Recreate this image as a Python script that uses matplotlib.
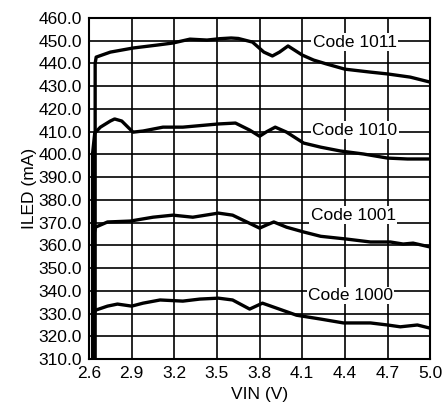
import matplotlib.pyplot as plt

plt.rcParams['font.family'] = ['Liberation Sans', 'DejaVu Sans']

# ILED vs VIN for four current codes
vin_1011 = [2.643, 2.643, 2.65, 2.75, 2.91, 3.08, 3.19, 3.31, 3.43, 3.52, 3.6, 3.65, 3.75,
            3.83, 3.89, 3.94, 4.0, 4.1, 4.18, 4.27, 4.4, 4.58, 4.7, 4.86, 5.0]
iled_1011 = [310.0, 440.0, 442.8, 445.0, 446.8, 448.1, 449.0, 450.7, 450.3, 450.9, 451.2, 451.0, 449.4,
             445.0, 443.3, 445.0, 447.7, 443.7, 441.5, 439.8, 437.5, 436.2, 435.4, 434.0, 431.8]

vin_1010 = [2.625, 2.625, 2.64, 2.68, 2.75, 2.78, 2.83, 2.88, 2.91, 2.98, 3.12, 3.26, 3.51,
            3.63, 3.73, 3.8, 3.85, 3.91, 3.99, 4.11, 4.23, 4.37, 4.53, 4.7, 4.84, 5.0]
iled_1010 = [310.0, 400.5, 409.4, 412.0, 414.7, 415.6, 414.7, 411.6, 409.8, 410.3, 412.0, 412.0, 413.4,
             413.8, 410.7, 408.0, 410.0, 412.0, 409.8, 405.0, 403.2, 401.5, 400.2, 398.4, 398.0, 398.0]

vin_1001 = [2.635, 2.635, 2.645, 2.73, 2.89, 3.05, 3.19, 3.33, 3.51, 3.61, 3.71, 3.8, 3.85,
            3.9, 3.99, 4.11, 4.23, 4.41, 4.58, 4.72, 4.81, 4.88, 5.0]
iled_1001 = [310.0, 365.0, 368.0, 370.3, 370.7, 372.4, 373.3, 372.4, 374.2, 373.3, 370.3, 367.6, 369.0,
             370.3, 368.0, 365.9, 364.0, 362.8, 361.5, 361.5, 360.6, 361.0, 359.3]

vin_1000 = [2.63, 2.63, 2.645, 2.73, 2.8, 2.9, 2.98, 3.1, 3.26, 3.38, 3.51, 3.61, 3.73,
            3.82, 3.92, 4.06, 4.23, 4.39, 4.58, 4.7, 4.79, 4.91, 5.0]
iled_1000 = [310.0, 329.0, 331.5, 333.3, 334.2, 333.3, 334.6, 336.0, 335.5, 336.4, 336.8, 336.0, 332.0,
             334.6, 332.4, 329.3, 327.6, 325.9, 325.9, 325.0, 324.2, 325.0, 323.6]

labels = ['Code 1011', 'Code 1010', 'Code 1001', 'Code 1000']
label_x = [4.47, 4.47, 4.46, 4.44]
label_y = [449.4, 410.7, 373.3, 338.0]

xticks = [2.6, 2.9, 3.2, 3.5, 3.8, 4.1, 4.4, 4.7, 5.0]
yticks = list(range(310, 461, 10))

fs = 12.5

fig = plt.figure(figsize=(4.43, 4.09), dpi=100)
ax = fig.add_axes([0.201, 0.122, 0.770, 0.834])

for v, i in [(vin_1011, iled_1011), (vin_1010, iled_1010),
             (vin_1001, iled_1001), (vin_1000, iled_1000)]:
    ax.plot(v, i, color='black', lw=2.4, solid_joinstyle='round', zorder=3)

for txt, x, y in zip(labels, label_x, label_y):
    ax.text(x, y, txt, ha='center', va='center', fontsize=fs, zorder=4,
            bbox=dict(facecolor='white', edgecolor='none', pad=1.0))

ax.set_xlim(2.6, 5.0)
ax.set_ylim(310, 460)
ax.set_xticks(xticks)
ax.set_xticklabels([f'{t:.1f}' for t in xticks])
ax.set_yticks(yticks)
ax.set_yticklabels([f'{t:.1f}' for t in yticks])
ax.tick_params(length=0, labelsize=fs)
ax.tick_params(axis='x', pad=5)
ax.tick_params(axis='y', pad=5)
ax.grid(True, color='black', lw=1.2)
for s in ax.spines.values():
    s.set_linewidth(1.5)
ax.set_xlabel('VIN (V)', fontsize=fs, labelpad=4)
ax.set_ylabel('ILED (mA)', fontsize=fs, labelpad=1)

fig.savefig('out.png', dpi=100)
